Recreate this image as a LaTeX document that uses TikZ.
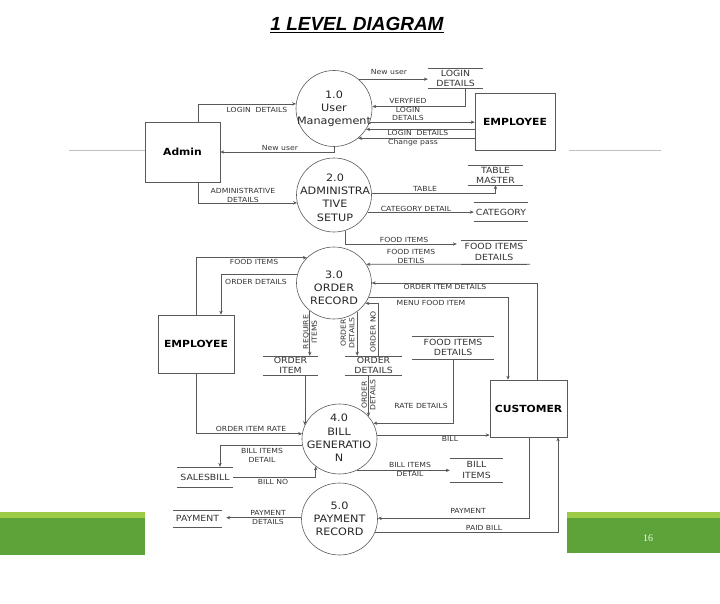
\documentclass[tikz,border=0pt]{standalone}
\usepackage{fontspec}
\setmainfont{DejaVu Sans}[FakeStretch=1.1]
\newfontfamily\titlefont{Liberation Sans}
\newfontfamily\numfont{Liberation Serif}
\usetikzlibrary{arrows.meta,shapes.geometric}
\definecolor{lgreen}{HTML}{9DCB48}
\definecolor{dgreen}{HTML}{5EA23A}
\tikzset{
 ln/.style={draw=black!65, line width=0.6pt},
 arr/.style={ln, -{Stealth[length=4pt,width=3.4pt]}},
 proc/.style={ellipse, draw=black!65, line width=0.6pt, inner sep=0pt},
 ptext/.style={align=center, inner sep=0pt, font=\fontsize{10.2}{13.2}\selectfont, text=black!85},
 ent/.style={rectangle, draw=black!65, line width=0.6pt, inner sep=0pt, font=\bfseries\fontsize{9.8}{11}\selectfont},
 store/.style={inner sep=0pt, align=center, font=\fontsize{8.5}{10.5}\selectfont, text=black!80},
 lbl/.style={inner sep=0pt, align=center, font=\fontsize{7}{8.5}\selectfont, text=black!80},
}
\begin{document}
\begin{tikzpicture}[x=1pt,y=-1pt]
\useasboundingbox (0,0) rectangle (720,604);
% slide decorations
\draw[black!25, line width=0.5pt] (69,150) -- (145,150);
\draw[black!25, line width=0.5pt] (569,150) -- (661,150);
\fill[dgreen] (0,512) rectangle (145,555);
\fill[lgreen] (0,512) rectangle (145,518);
\fill[dgreen] (567,512) rectangle (720,553);
\fill[lgreen] (567,512) rectangle (720,518);
\node[text=white!92!green, font=\numfont\fontsize{10}{11}\selectfont] (pg) at (648,538) {16};
% title
\node[font=\titlefont\bfseries\itshape\fontsize{19}{22}\selectfont] (title) at (357,25) {\underline{1 LEVEL DIAGRAM}};
% processes
\node[proc, minimum width=76pt, minimum height=76pt] (c1) at (334,108.5) {};
\node[ptext] (t1) at (334,109) {1.0\\User\\Management};
\node[proc, minimum width=75pt, minimum height=74pt] (c2) at (334,195) {};
\node[ptext] (t2) at (335,197.5) {2.0\\ADMINISTRA\\TIVE\\SETUP};
\node[proc, minimum width=75pt, minimum height=72pt] (c3) at (334,283) {};
\node[ptext] (t3) at (334,287.5) {3.0\\ORDER\\RECORD};
\node[proc, minimum width=75pt, minimum height=70pt] (c4) at (339.5,439) {};
\node[ptext] (t4) at (339,438) {4.0\\BILL\\GENERATIO\\N};
\node[proc, minimum width=76pt, minimum height=72pt] (c5) at (339.5,519) {};
\node[ptext] (t5) at (339.5,518.5) {5.0\\PAYMENT\\RECORD};
% entities
\node[ent, minimum width=75pt, minimum height=60pt] (admin) at (182.5,152) {Admin};
\node[ent, minimum width=80pt, minimum height=57pt] (emp1) at (515,121.5) {EMPLOYEE};
\node[ent, minimum width=76pt, minimum height=58pt] (emp2) at (196,344) {EMPLOYEE};
\node[ent, minimum width=77pt, minimum height=57pt] (cust) at (528.5,408.5) {CUSTOMER};
% data stores
\node[store, minimum width=55pt, minimum height=19pt] (ld) at (455.5,78.5) {LOGIN\\DETAILS};
\node[store, minimum width=55pt, minimum height=19pt] (tm) at (495.5,175.5) {TABLE\\MASTER};
\node[store, minimum width=54pt, minimum height=18pt] (cat) at (501,212) {CATEGORY};
\node[store, minimum width=66pt, minimum height=24pt] (fid1) at (494,252) {FOOD ITEMS\\DETAILS};
\node[store, minimum width=55pt, minimum height=19pt] (oi) at (290.5,365.5) {ORDER\\ITEM};
\node[store, minimum width=57pt, minimum height=19pt] (od) at (373.5,365.5) {ORDER\\DETAILS};
\node[store, minimum width=82pt, minimum height=23pt] (fid2) at (453,347.5) {FOOD ITEMS\\DETAILS};
\node[store, minimum width=56pt, minimum height=20pt] (sb) at (205,477) {SALESBILL};
\node[store, minimum width=53pt, minimum height=24pt] (bi) at (476.5,470) {BILL\\ITEMS};
\node[store, minimum width=49pt, minimum height=17pt] (pay) at (197.5,518.5) {PAYMENT};
\foreach \s in {ld,tm,cat,fid1,oi,od,fid2,sb,bi,pay}
  \draw[ln] (\s.north west) -- (\s.north east) (\s.south west) -- (\s.south east);
% connectors
\draw[arr] ([xshift=16pt]admin.north) |- (c1.173.2);
\draw[arr] (c1.south) |- (admin.east);
\draw[arr] (c1.50.9) -- (c1.50.9 -| ld.west);
\draw[arr] ([xshift=9.5pt]ld.south) |- (c1.3.8);
\draw[arr] (c1.339.2) -- (c1.339.2 -| emp1.west);
\draw[arr] (emp1.west |- c1.327.4) -- (c1.327.4);
\draw[arr] (emp1.west |- c1.309.1) -- (c1.309.1);
\draw[arr] ([xshift=16pt]admin.south) |- (c2.192.3);
\draw[arr] (c2.3.1) -| (tm.south);
\draw[arr] (c2.333) -- (c2.333 -| cat.west);
\draw[arr] (c2.287.3) |- ([xshift=-4pt,yshift=8pt]fid1.west);
\draw[arr] ([xshift=3pt]fid1.south east) -- (c3.30.8);
\draw[arr] (emp2.north) |- (c3.137.2);
\draw[arr] (c3.167.7) -| ([xshift=25pt]emp2.north);
\draw[arr] ([xshift=8.5pt]cust.north) |- (c3.east);
\draw[arr] (c3.338) -| ([xshift=-20.5pt]cust.north);
\draw[arr] (c3.229) -- (c3.229 |- oi.north);
\draw[arr] (c3.309) -- (c3.309 |- od.north);
\draw[arr] ([xshift=4.5pt]od.north) |- (c3.327.3);
\draw[arr] (c4.158.3 |- oi.south) -- (c4.158.3);
\draw[arr] (c4.38.6 |- od.south) -- (c4.38.6);
\draw[arr] (fid2.south) |- (c4.25.6);
\draw[arr] (emp2.south) |- (c4.172.3);
\draw[arr] (c4.6.1) -- (c4.6.1 -| cust.west);
\draw[arr] (c4.190.8) -| ([xshift=15pt]sb.north);
\draw[arr] (sb.east) -| (c4.229.3);
\draw[arr] (c4.299.3) -- (c4.299.3 -| bi.west);
\draw[arr] ([xshift=0.5pt]cust.south) |- (c5.1.5);
\draw[arr] (c5.339.9) -| ([xshift=29.5pt]cust.south);
\draw[arr] (c5.178.5) -- ([xshift=4pt]c5.178.5 -| pay.east);
% labels
\node[lbl] (l1) at (257,110) {LOGIN~~DETAILS};
\node[lbl] (l2) at (280,148) {New user};
\node[lbl] (l3) at (389,72) {New user};
\node[lbl] (l4) at (408,109.5) {VERYFIED\\LOGIN\\DETAILS};
\node[lbl] (l5) at (418,133) {LOGIN~~DETAILS};
\node[lbl] (l6) at (413,143) {Change pass};
\node[lbl] (l7) at (243,195.5) {ADMINISTRATIVE\\DETAILS};
\node[lbl] (l8) at (425,189) {TABLE};
\node[lbl] (l9) at (416,209) {CATEGORY DETAIL};
\node[lbl] (l10) at (404,240) {FOOD ITEMS};
\node[lbl] (l11) at (411,256.5) {FOOD ITEMS\\DETILS};
\node[lbl] (l12) at (254,262) {FOOD ITEMS};
\node[lbl] (l13) at (256,282) {ORDER DETAILS};
\node[lbl] (l14) at (445,287) {ORDER ITEM DETAILS};
\node[lbl] (l15) at (431,303) {MENU FOOD ITEM};
\node[lbl, rotate=90] (l16) at (310,332) {REQUIRE\\ITEMS};
\node[lbl, rotate=90] (l17) at (347.5,333) {ORDER\\DETAILS};
\node[lbl, rotate=90] (l18) at (373,332) {ORDER NO};
\node[lbl, rotate=90] (l19) at (368.5,395) {ORDER\\DETAILS};
\node[lbl] (l20) at (421,406) {RATE DETAILS};
\node[lbl] (l21) at (251,429) {ORDER ITEM RATE};
\node[lbl] (l22) at (450,439) {BILL};
\node[lbl] (l23) at (262,455.5) {BILL ITEMS\\DETAIL};
\node[lbl] (l24) at (273,482) {BILL NO};
\node[lbl] (l25) at (410,469.5) {BILL ITEMS\\DETAIL};
\node[lbl] (l26) at (468,511) {PAYMENT};
\node[lbl] (l27) at (484,528) {PAID BILL};
\node[lbl] (l28) at (268,517.5) {PAYMENT\\DETAILS};
\end{tikzpicture}
\end{document}
